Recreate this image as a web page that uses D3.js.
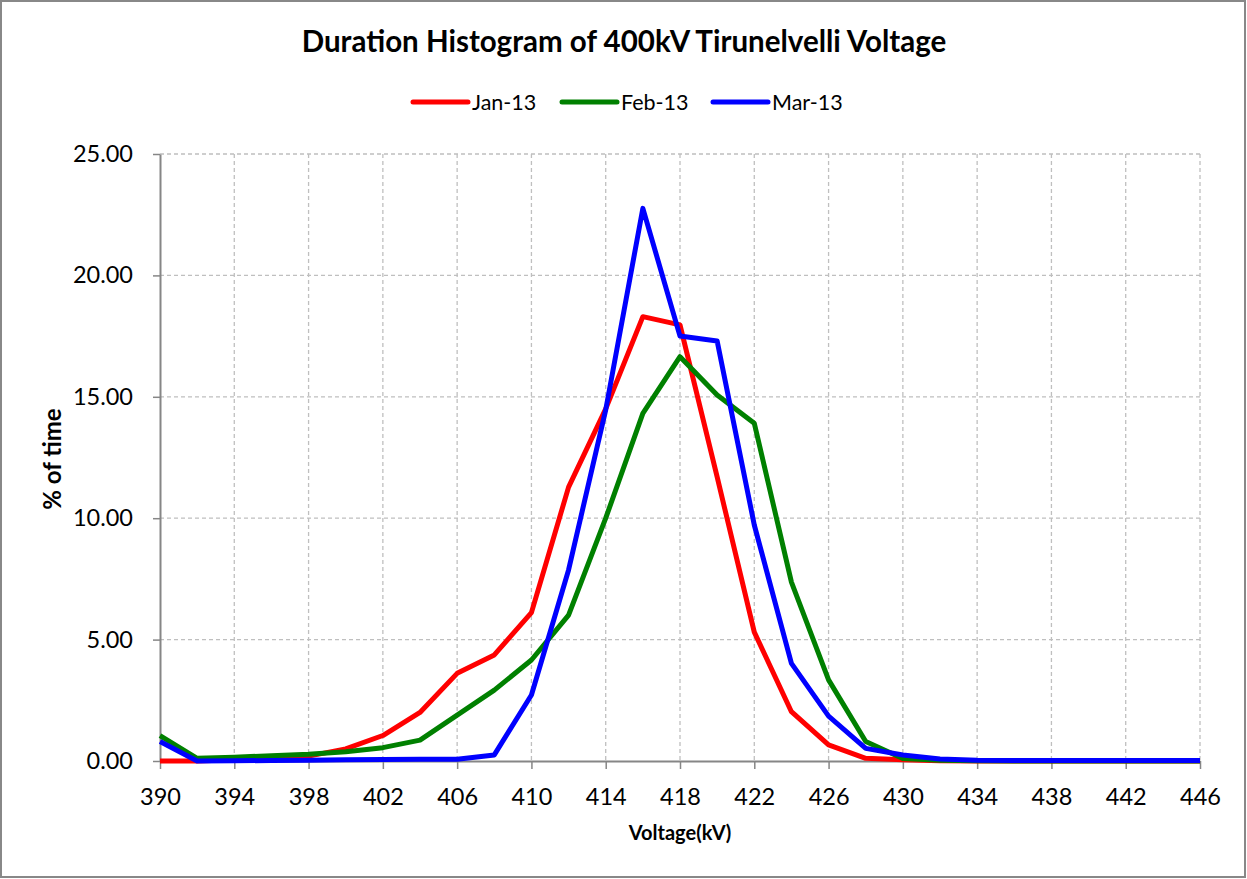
<!DOCTYPE html>
<html><head><meta charset="utf-8">
<script src="https://cdn.jsdelivr.net/npm/d3@7"></script>
<style>body{margin:0;background:#fff}svg{display:block}</style>
</head><body>
<svg id="c" width="1247" height="879"></svg>
<script>
const voltages = [390,392,394,396,398,400,402,404,406,408,410,412,414,416,418,420,422,424,426,428,430,432,434,436,438,440,442,444,446];
const jan13 = [0.00,0.00,0.05,0.10,0.20,0.50,1.05,2.00,3.61,4.37,6.11,11.28,14.50,18.30,17.96,11.70,5.31,2.03,0.66,0.11,0.05,0.01,0.00,0.00,0.00,0.00,0.00,0.00,0.00];
const feb13 = [1.05,0.11,0.15,0.22,0.28,0.38,0.55,0.86,1.89,2.92,4.16,6.01,10.00,14.32,16.65,15.07,13.91,7.37,3.34,0.80,0.10,0.03,0.01,0.00,0.00,0.00,0.00,0.00,0.00];
const mar13 = [0.80,0.00,0.01,0.02,0.03,0.05,0.06,0.07,0.07,0.25,2.72,7.87,14.46,22.76,17.50,17.30,9.72,4.02,1.85,0.52,0.25,0.08,0.03,0.02,0.02,0.02,0.02,0.02,0.02];
const seriesNames = ["Jan-13","Feb-13","Mar-13"];
const seriesColors = ["#ff0000","#008000","#0000ff"];
const xTicks = [390,394,398,402,406,410,414,418,422,426,430,434,438,442,446];
const yTicks = [0,5,10,15,20,25];

const svg = d3.select("#c");
const font = "Lato, 'Open Sans', sans-serif";
svg.append("rect").attr("x",1).attr("y",1).attr("width",1244).attr("height",876)
  .attr("fill","#fff").attr("stroke","#888").attr("stroke-width",2);

const L=160,R=1200,T=154,B=761;
const x = d3.scaleLinear().domain([390,446]).range([L,R]);
const y = d3.scaleLinear().domain([0,25]).range([B,T]);

// grid
svg.append("g").selectAll("line").data(yTicks.filter(d=>d>0)).join("line")
  .attr("x1",L).attr("x2",R).attr("y1",d=>y(d)).attr("y2",d=>y(d))
  .attr("stroke","#bfbfbf").attr("stroke-width",1.3).attr("stroke-dasharray","4,3");
svg.append("g").selectAll("line").data(xTicks.filter(d=>d>390)).join("line")
  .attr("y1",T).attr("y2",B).attr("x1",d=>x(d)).attr("x2",d=>x(d))
  .attr("stroke","#bfbfbf").attr("stroke-width",1.3).attr("stroke-dasharray","4,3");

// axes
const xAxis = d3.axisBottom(x).tickValues(xTicks).tickFormat(d3.format("d")).tickSize(8).tickSizeOuter(0).tickPadding(19);
const gx = svg.append("g").attr("transform",`translate(0,${B})`).call(xAxis);
gx.select(".domain").attr("stroke","#868686").attr("stroke-width",2);
gx.selectAll(".tick line").attr("stroke","#868686").attr("stroke-width",1.5);
gx.selectAll("text").attr("font-family",font).attr("font-size",23.5).attr("fill","#000");

const yAxis = d3.axisLeft(y).tickValues(yTicks).tickFormat(d3.format(".2f")).tickSize(7).tickSizeOuter(0).tickPadding(20);
const gy = svg.append("g").attr("transform",`translate(${L},0)`).call(yAxis);
gy.select(".domain").attr("stroke","#868686").attr("stroke-width",2);
gy.selectAll(".tick line").attr("stroke","#868686").attr("stroke-width",1.5);
gy.selectAll("text").attr("font-family",font).attr("font-size",23.5).attr("fill","#000");

// lines
const data=[jan13,feb13,mar13];
const line = d3.line().x((d,i)=>x(voltages[i])).y(d=>y(d));
data.forEach((s,k)=>{
  svg.append("path").datum(s).attr("d",line).attr("fill","none")
    .attr("stroke",seriesColors[k]).attr("stroke-width",5).attr("stroke-linejoin","round");
});

// title
svg.append("text").attr("x",624).attr("y",52).attr("text-anchor","middle")
  .attr("font-family",font).attr("font-weight","bold").attr("font-size",29.5).text("Duration Histogram of 400kV Tirunelvelli Voltage");
// legend
const legX=[413,562,713];
seriesNames.forEach((n,k)=>{
  svg.append("line").attr("x1",legX[k]).attr("x2",legX[k]+55).attr("y1",102).attr("y2",102)
    .attr("stroke",seriesColors[k]).attr("stroke-width",5).attr("stroke-linecap","round");
  svg.append("text").attr("x",legX[k]+59).attr("y",110).attr("font-family",font).attr("font-size",21.5).text(n);
});
// axis titles
svg.append("text").attr("x",680).attr("y",840).attr("text-anchor","middle")
  .attr("font-family",font).attr("font-weight","bold").attr("font-size",20).text("Voltage(kV)");
svg.append("text").attr("transform","translate(61,459) rotate(-90)").attr("text-anchor","middle")
  .attr("font-family",font).attr("font-weight","bold").attr("font-size",24).text("% of time");
</script>
</body></html>
